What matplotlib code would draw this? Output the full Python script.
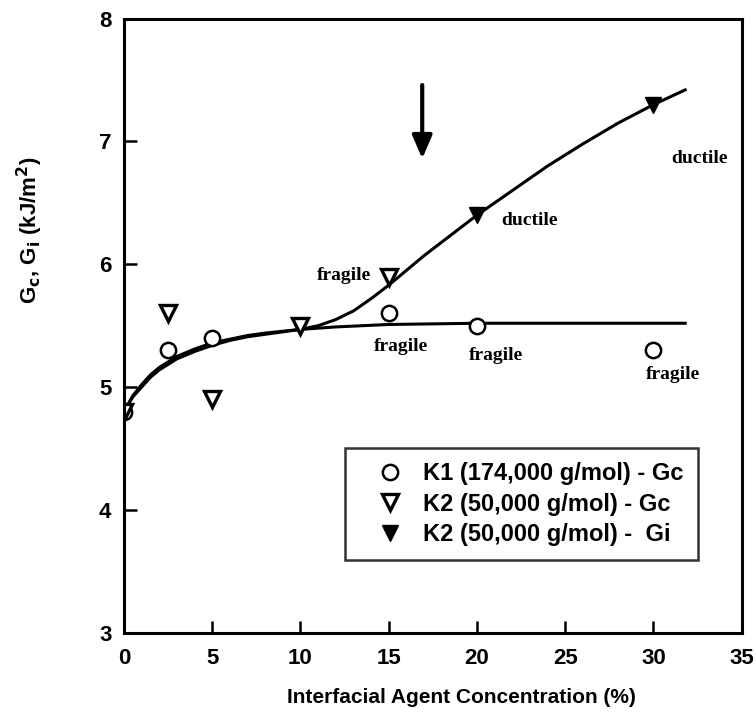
import matplotlib.pyplot as plt

# measured points
k1_x = [0, 2.5, 5, 15, 20, 30]
k1_gc = [4.8, 5.3, 5.4, 5.6, 5.5, 5.3]

k2_x = [0, 2.5, 5, 10, 15]
k2_gc = [4.8, 5.6, 4.9, 5.5, 5.9]

k2i_x = [20, 30]
k2i_gi = [6.4, 7.3]

# fitted trend lines
fit_low_x = [0, 0.5, 1, 1.5, 2, 3, 4, 5, 6, 7, 8, 10, 12, 15, 20, 25, 31.8]
fit_low_y = [4.8, 4.93, 5.02, 5.1, 5.16, 5.25, 5.31, 5.36, 5.39, 5.42, 5.44, 5.47, 5.49, 5.51, 5.52, 5.52, 5.52]

fit_up_x = [0, 0.5, 1, 1.5, 2, 3, 4, 5, 6, 7, 8, 9, 10, 11, 12, 13, 14, 15, 16, 17, 18,
            19, 20, 22, 24, 26, 28, 30, 31.8]
fit_up_y = [4.8, 4.92, 5.0, 5.08, 5.14, 5.23, 5.29, 5.34, 5.38, 5.41, 5.43, 5.45, 5.47, 5.5,
            5.55, 5.62, 5.72, 5.83, 5.95, 6.07, 6.18, 6.29, 6.4, 6.6, 6.8, 6.98, 7.15, 7.3, 7.42]

# fracture mode labels
notes = [
    ('fragile', 14.0, 5.91, 'right'),
    ('ductile', 21.4, 6.36, 'left'),
    ('ductile', 31.0, 6.86, 'left'),
    ('fragile', 15.7, 5.33, 'center'),
    ('fragile', 21.1, 5.26, 'center'),
    ('fragile', 31.1, 5.1, 'center'),
]

sans = 'Liberation Sans'
serif = 'Liberation Serif'

fig = plt.figure(figsize=(7.56, 7.19), dpi=100)
ax = fig.add_axes([0.164, 0.12, 0.817, 0.854])

ax.plot(fit_low_x, fit_low_y, color='black', linewidth=2.2)
ax.plot(fit_up_x, fit_up_y, color='black', linewidth=2.2)

ax.plot(k1_x, k1_gc, linestyle='none', marker='o', markersize=11, markerfacecolor='white',
        markeredgecolor='black', markeredgewidth=1.8, label='K1 (174,000 g/mol) - Gc')
ax.plot(k2_x, k2_gc, linestyle='none', marker='v', markersize=12, markerfacecolor='white',
        markeredgecolor='black', markeredgewidth=2.4, label='K2 (50,000 g/mol) - Gc')
ax.plot(k2i_x, k2i_gi, linestyle='none', marker='v', markersize=12, markerfacecolor='black',
        markeredgecolor='black', label='K2 (50,000 g/mol) -  Gi')

for txt, x, y, ha in notes:
    ax.text(x, y, txt, family=serif, fontweight='bold', fontsize=14, ha=ha, va='center')

# arrow marking the transition
ax.annotate('', xy=(16.9, 6.86), xytext=(16.9, 7.46),
            arrowprops=dict(arrowstyle='-|>,head_length=0.7,head_width=0.3',
                            color='black', lw=3, mutation_scale=20, shrinkA=0, shrinkB=0))

ax.set_xlim(0, 35)
ax.set_ylim(3, 8)
ax.set_xticks(range(0, 36, 5))
ax.set_yticks(range(3, 9))
ax.tick_params(direction='in', length=9, width=1.8, labelsize=16)
ax.tick_params(axis='x', pad=11)
ax.tick_params(axis='y', pad=9)
for lab in ax.get_xticklabels() + ax.get_yticklabels():
    lab.set_family(sans)
    lab.set_fontweight('bold')
for sp in ax.spines.values():
    sp.set_linewidth(2.2)

ax.set_xlabel('Interfacial Agent Concentration (%)', family=sans, fontweight='bold',
              fontsize=15)
ax.xaxis.set_label_coords(0.547, -0.09)
ax.set_ylabel(r'G$_\mathbf{c}$, G$_\mathbf{i}$ (kJ/m$^\mathbf{2}$)', family=sans,
              fontweight='bold', fontsize=16)
ax.yaxis.set_label_coords(-0.128, 0.655)

leg = ax.legend(loc='upper left', bbox_to_anchor=(0.358, 0.301), borderaxespad=0,
                frameon=True, fancybox=False, edgecolor='black', handlelength=2.6,
                handletextpad=0.1, borderpad=0.6, labelspacing=0.32,
                prop={'family': sans, 'weight': 'bold', 'size': 17})
leg.get_frame().set_linewidth(1.8)

fig.savefig('out.png', dpi=100)
